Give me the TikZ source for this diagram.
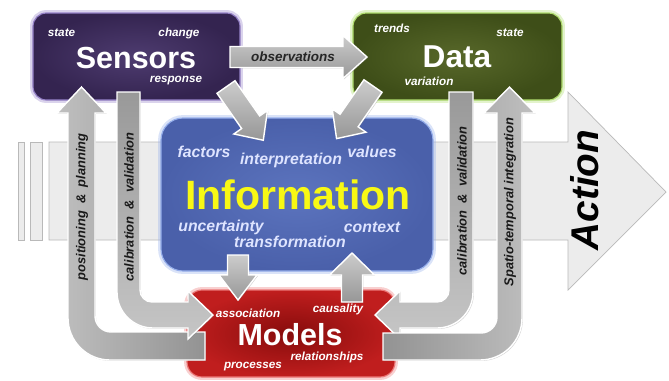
\documentclass[tikz,border=0pt]{standalone}
\usepackage{fontspec}
\setmainfont{Liberation Sans}
\usetikzlibrary{shadows}

\definecolor{sensorsin}{RGB}{78,60,112}
\definecolor{sensorsout}{RGB}{52,36,80}
\definecolor{sensorsglow}{RGB}{150,130,200}
\definecolor{datain}{RGB}{88,104,42}
\definecolor{dataout}{RGB}{62,78,24}
\definecolor{dataglow}{RGB}{175,220,110}
\definecolor{infoin}{RGB}{92,116,190}
\definecolor{infoout}{RGB}{74,96,170}
\definecolor{infoglow}{RGB}{150,175,235}
\definecolor{modelsin}{RGB}{135,12,12}
\definecolor{modelsout}{RGB}{192,30,30}
\definecolor{modelsglow}{RGB}{235,120,120}
\definecolor{infotext}{RGB}{222,228,255}
\definecolor{infoyellow}{RGB}{248,248,20}

\tikzset{
  box/.style={rounded corners=0.4cm, inner sep=0pt},
  glow/.style={preaction={draw=#1, line width=5pt, opacity=.35}, draw=#1, line width=1pt},
  lbl/.style={font=\bfseries\itshape\fontsize{10}{12}\selectfont, text=white},
  infolbl/.style={font=\bfseries\itshape\fontsize{13.5}{15}\selectfont, text=infotext},
  title/.style={font=\bfseries\fontsize{#1}{#1}\selectfont, text=white},
  vlbl/.style={rotate=90, font=\bfseries\itshape\fontsize{11}{13}\selectfont, text=black!90},
  actionarr/.style={fill=gray!15, draw=gray!55, line width=.6pt},
  garrow/.style={draw=white, line width=1.2pt,
    drop shadow={opacity=.35, shadow xshift=.8pt, shadow yshift=-.8pt}},
  pics/blockarr/.style args={#1/#2/#3/#4}{code={
    \path[garrow, top color=gray!40, bottom color=gray!82]
      (0,-#3) -- (#1-#2,-#3) -- (#1-#2,-#4) -- (#1,0) -- (#1-#2,#4) -- (#1-#2,#3) -- (0,#3) -- cycle;
  }}
}

\begin{document}
\begin{tikzpicture}[x=0.03cm, y=-0.03cm]
\useasboundingbox (0,0) rectangle (669,380);

% big action arrow behind everything
\path[actionarr] (49,142) -- (568,142) -- (568,92) -- (666,192) -- (568,290) -- (568,240) -- (49,240) -- cycle;
\path[actionarr] (18,142) rectangle (24,240);
\path[actionarr] (30,142) rectangle (42,240);
\node[rotate=90, font=\bfseries\itshape\fontsize{33}{36}\selectfont] (action) at (585,190) {Action};

% the four boxes
\node[box, minimum width=6.21cm, minimum height=2.61cm, inner color=sensorsin, outer color=sensorsout, glow=sensorsglow] (sensors) at (136.5,56.5) {};
\node[box, minimum width=6.27cm, minimum height=2.61cm, inner color=datain, outer color=dataout, glow=dataglow] (data) at (457.5,56.5) {};
\node[box, rounded corners=0.66cm, minimum width=8.16cm, minimum height=4.59cm, inner color=infoin, outer color=infoout, glow=infoglow] (info) at (297,194.5) {};
\node[box, rounded corners=0.45cm, minimum width=6.24cm, minimum height=2.61cm, inner color=modelsin, outer color=modelsout, glow=modelsglow] (models) at (291,333.5) {};

% box texts
\node[lbl] (s-state) at (61.5,33) {state};
\node[lbl] (s-change) at (179,33) {change};
\node[title=26] (s-title) at (136,58) {Sensors};
\node[lbl] (s-response) at (176,81) {response};

\node[lbl] (d-trends) at (392,28) {trends};
\node[lbl] (d-state) at (510,33) {state};
\node[title=27] (d-title) at (457,57) {Data};
\node[lbl] (d-variation) at (429,81) {variation};

\node[infolbl] (i-factors) at (204,152) {factors};
\node[infolbl] (i-interp) at (291,160) {interpretation};
\node[infolbl] (i-values) at (372,152) {values};
\node[title=35, text=infoyellow] (i-title) at (298,195) {Information};
\node[infolbl] (i-uncert) at (221,227) {uncertainty};
\node[infolbl] (i-context) at (372,227) {context};
\node[infolbl] (i-transf) at (290,242) {transformation};

% curved arrows between the boxes
\path[garrow, left color=gray!50, right color=gray!85] (205,360) -- (110,360) .. controls (86.8,360) and (68,341.2) .. (68,318) -- (68,113) -- (57,113) -- (81.5,87) -- (106,113) -- (95,113) -- (95,316) .. controls (95,324.8) and (102.2,332) .. (111,332) -- (205,332) -- cycle;
\path[garrow, top color=gray!80, bottom color=gray!45] (117,92) -- (140,92) -- (140,290) .. controls (140,296.6) and (145.4,302) .. (152,302) -- (188,302) -- (188,291) -- (213,315) -- (188,339) -- (188,328) -- (153,328) .. controls (133.1,328) and (117,311.9) .. (117,292) -- cycle;
\path[garrow, top color=gray!80, bottom color=gray!45] (449,92) -- (473,92) -- (473,292) .. controls (473,311.9) and (456.9,328) .. (437,328) -- (400,328) -- (400,339) -- (375,315) -- (400,291) -- (400,302) -- (437,302) .. controls (443.6,302) and (449,296.6) .. (449,290) -- cycle;
\path[garrow, left color=gray!85, right color=gray!50] (383,333) -- (481,333) .. controls (489.8,333) and (497,325.8) .. (497,317) -- (497,113) -- (484,113) -- (509.5,87) -- (535,113) -- (522,113) -- (522,318) .. controls (522,341.2) and (503.2,360) .. (480,360) -- (383,360) -- cycle;

\node[vlbl] (l-pos) at (82,207) {positioning\ \ \&\ \ planning};
\node[vlbl] (l-cal) at (129,207) {calibration\ \ \&\ \ validation};
\node[vlbl] (r-cal) at (462,201) {calibration\ \ \&\ \ validation};
\node[vlbl] (r-spatio) at (510,202) {Spatio-temporal integration};

% straight arrows
\pic at (230,57) {blockarr=137/24/10.5/21.5};
\node[font=\bfseries\itshape\fontsize{11.5}{13}\selectfont, text=black!85] (obs) at (293,57) {observations};
\pic[rotate=-55] at (226,87) {blockarr=65/22/11/20.5};
\pic[rotate=-124.7] at (373,86) {blockarr=64/22/11/20.5};
\pic[rotate=-90] at (238,255) {blockarr=45/25/10.5/19};
\pic[rotate=90] at (352,302) {blockarr=49/22/10.5/22.5};

% model texts
\node[lbl] (m-assoc) at (248,313) {association};
\node[lbl] (m-causal) at (338,309) {causality};
\node[title=26] (m-title) at (290,335) {Models};
\node[lbl] (m-rel) at (327,357) {relationships};
\node[lbl] (m-proc) at (253,367) {processes};
\end{tikzpicture}
\end{document}
